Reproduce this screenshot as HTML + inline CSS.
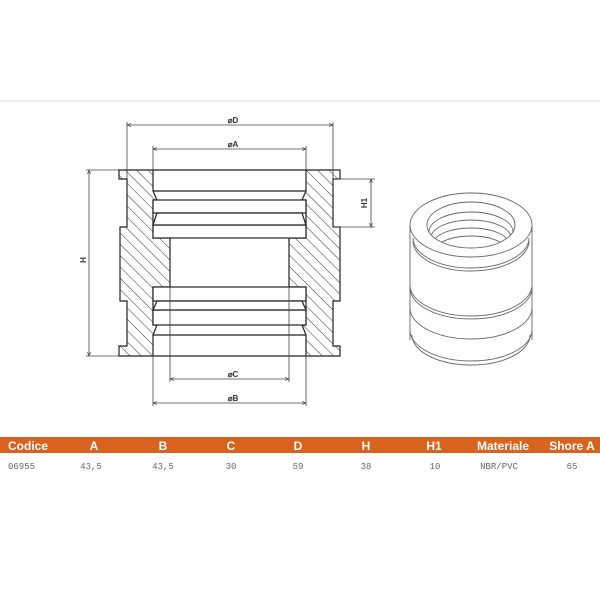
<!DOCTYPE html>
<html><head><meta charset="utf-8"><style>
body{margin:0;background:#fff;width:600px;height:600px;overflow:hidden;font-family:"Liberation Sans",sans-serif}
</style></head><body>
<svg width="600" height="600" viewBox="0 0 600 600" xmlns="http://www.w3.org/2000/svg">
<defs>
<pattern id="h" patternUnits="userSpaceOnUse" width="8" height="8" patternTransform="rotate(-45)">
<line x1="0" y1="0" x2="0" y2="8" stroke="#333" stroke-width="1"/>
</pattern>
<clipPath id="hole"><ellipse cx="471" cy="225" rx="44" ry="23"/></clipPath>
<marker id="a" markerWidth="6" markerHeight="6" refX="5" refY="3" orient="auto-start-reverse"><path d="M0,1 L5,3 L0,5" fill="none" stroke="#444" stroke-width="0.8"/></marker>
</defs>
<line x1="0" y1="101" x2="600" y2="101" stroke="#e4e4e4" stroke-width="1.5"/>
<g stroke="#222" stroke-width="1.2" fill="url(#h)">
<path d="M119,170 L153,170 L153,191 L157,200 L153,200 L153,238 L170,238 L170,287 L153,287 L153,325 L157,325 L153,335 L153,356 L119,356 L119,346 L127,346 L127,301 L120,301 L120,227 L127,227 L127,179 L119,179 Z"/>
<path d="M340,170 L306,170 L306,191 L302,200 L306,200 L306,238 L289,238 L289,287 L306,287 L306,325 L302,325 L306,335 L306,356 L340,356 L340,346 L333,346 L333,301 L340,301 L340,227 L333,227 L333,179 L340,179 Z"/>
</g>
<g stroke="#222" stroke-width="1.2" fill="#fff">
<rect x="153" y="200" width="153" height="13"/>
<rect x="153" y="225" width="153" height="13"/>
<rect x="153" y="287" width="153" height="14"/>
<rect x="153" y="310" width="153" height="15"/>
<path d="M157,213 L302,213 L306,225 L153,225 Z"/>
<path d="M157,301 L302,301 L306,310 L153,310 Z"/>
<line x1="153" y1="191" x2="306" y2="191"/>
<line x1="153" y1="335" x2="306" y2="335"/>
<line x1="153" y1="170" x2="306" y2="170"/>
<line x1="153" y1="356" x2="306" y2="356"/>
</g>
<g stroke="#444" stroke-width="0.8" fill="none">
<line x1="127" y1="122" x2="127" y2="179"/><line x1="333" y1="122" x2="333" y2="179"/>
<line x1="127" y1="125" x2="333" y2="125" marker-start="url(#a)" marker-end="url(#a)"/>
<line x1="153" y1="146" x2="153" y2="170"/><line x1="306" y1="146" x2="306" y2="170"/>
<line x1="153" y1="149" x2="306" y2="149" marker-start="url(#a)" marker-end="url(#a)"/>
<line x1="86" y1="170" x2="119" y2="170"/><line x1="86" y1="356" x2="119" y2="356"/>
<line x1="89" y1="170" x2="89" y2="356" marker-start="url(#a)" marker-end="url(#a)"/>
<line x1="333" y1="179" x2="375" y2="179"/><line x1="333" y1="227" x2="375" y2="227"/>
<line x1="371" y1="179" x2="371" y2="227" marker-start="url(#a)" marker-end="url(#a)"/>
<line x1="170" y1="287" x2="170" y2="382"/><line x1="289" y1="287" x2="289" y2="382"/>
<line x1="170" y1="379" x2="289" y2="379" marker-start="url(#a)" marker-end="url(#a)"/>
<line x1="153" y1="356" x2="153" y2="406"/><line x1="306" y1="356" x2="306" y2="406"/>
<line x1="153" y1="403" x2="306" y2="403" marker-start="url(#a)" marker-end="url(#a)"/>
</g>
<g font-size="8" font-weight="bold" fill="#333" text-anchor="middle" font-family="Liberation Sans,sans-serif">
<text x="233" y="123">⌀D</text>
<text x="233" y="147">⌀A</text>
<text x="233" y="377">⌀C</text>
<text x="233" y="401">⌀B</text>
<text transform="translate(86,260) rotate(-90)">H</text>
<text transform="translate(367,203) rotate(-90)">H1</text>
</g>
<g stroke="#666" stroke-width="0.9" fill="none">
<path d="M410,225 L410,340 M532,225 L532,340"/>
<path d="M413,238 A58,30 0 0 0 529,238"/>
<path d="M413,241 A58,30 0 0 0 529,241"/>
<path d="M410,285 A61,31 0 0 0 532,285"/>
<path d="M410,288 A61,31 0 0 0 532,288"/>
<path d="M410,308 A61,31 0 0 0 532,308"/>
<path d="M410,330 A61,31 0 0 0 532,330"/>
<path d="M412,335 A59,30 0 0 0 530,335"/>
<ellipse cx="471" cy="225" rx="61" ry="32" fill="#fff"/>
<ellipse cx="471" cy="225" rx="44" ry="23"/>
<g clip-path="url(#hole)">
<path d="M429,232 A42,20 0 0 1 513,232"/>
<path d="M431,238 A40,18 0 0 1 511,238"/>
<path d="M434,243 A37,15 0 0 1 508,243"/>
<path d="M438,248 A33,12 0 0 1 504,248"/>
</g>
</g>
<rect x="0" y="437" width="600" height="16" fill="#d9621f"/>
<g font-size="12" font-weight="bold" fill="#fff" text-anchor="middle">
<text x="8" y="450" text-anchor="start">Codice</text>
<text x="94" y="450">A</text><text x="163" y="450">B</text><text x="231" y="450">C</text>
<text x="298" y="450">D</text><text x="366" y="450">H</text><text x="434" y="450">H1</text>
<text x="503" y="450">Materiale</text><text x="572" y="450">Shore A</text>
</g>
<g font-size="9" fill="#666" text-anchor="middle" font-family="Liberation Mono,monospace">
<text x="8" y="469" text-anchor="start">06955</text>
<text x="91" y="469">43,5</text><text x="163" y="469">43,5</text><text x="231" y="469">30</text>
<text x="298" y="469">59</text><text x="366" y="469">38</text><text x="435" y="469">10</text>
<text x="499" y="469">NBR/PVC</text><text x="572" y="469">65</text>
</g>
</svg>
</body></html>
